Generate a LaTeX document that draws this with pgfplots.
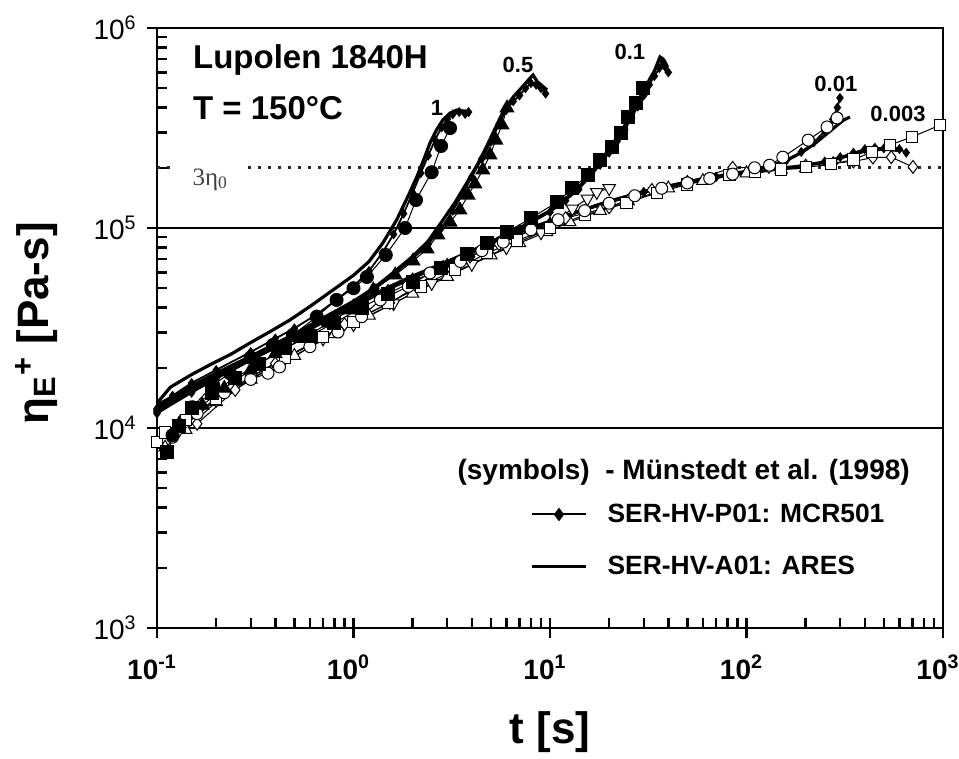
\documentclass[border=0pt]{standalone}
\usepackage{fontspec}
\setmainfont{Liberation Sans}
\newfontfamily\seriffont{Liberation Serif}
\usepackage{pgfplots}
\pgfplotsset{compat=1.18}
\pgfplotsset{
  ares/.style={black, line width=1.6pt, no marks, forget plot},
  mcr/.style={black, line width=0.9pt, mark=diamond*, mark size=1.8pt, forget plot},
  sym/.style={black, line width=0.5pt, forget plot, mark options={line width=0.6pt, solid}},
}
\begin{document}
\begin{tikzpicture}
\begin{axis}[
  name=ax,
  scale only axis, width=393pt, height=300pt,
  xmode=log, ymode=log,
  xmin=0.1, xmax=1000, ymin=1e3, ymax=1e6,
  axis line style={line width=1.4pt},
  xtick={0.1,1,10,100,1000},
  xticklabels={10\textsuperscript{-1},10\textsuperscript{0},10\textsuperscript{1},10\textsuperscript{2},10\textsuperscript{3}},
  ytick={1e3,1e4,1e5,1e6},
  yticklabels={10\textsuperscript{3},10\textsuperscript{4},10\textsuperscript{5},10\textsuperscript{6}},
  xminorticks=true, yminorticks=true,
  minor xtick={0.2,0.3,0.4,0.5,0.6,0.7,0.8,0.9,2,3,4,5,6,7,8,9,20,30,40,50,60,70,80,90,200,300,400,500,600,700,800,900},
  minor ytick={2000,3000,4000,5000,6000,7000,8000,9000,20000,30000,40000,50000,60000,70000,80000,90000,200000,300000,400000,500000,600000,700000,800000,900000},
  tick pos=left, tick align=inside,
  major tick length=5pt, minor tick length=5pt,
  major tick style={line width=1.3pt, black},
  minor tick style={line width=1.2pt, black},
  extra x ticks={0.1,1,10,100,1000},
  extra y ticks={1e3,1e4,1e5,1e6},
  extra x tick style={tick align=outside, major tick length=5pt, xticklabel={}},
  extra y tick style={tick align=outside, major tick length=5pt, yticklabel={}},
  xticklabel style={font=\bfseries\fontsize{14}{14}\selectfont, anchor=base, yshift=-25.5pt, xshift=-2.5pt, inner sep=0pt},
  yticklabel style={font=\fontsize{14}{14}\selectfont, anchor=east, xshift=-10pt, inner sep=0pt},
  ymajorgrids, major grid style={black, line width=1.4pt},
  xlabel={t [s]},
  xlabel style={font=\bfseries\fontsize{22}{22}\selectfont, at={(axis description cs:0.5,-0.1917)}, anchor=base},
  ylabel={η\textsubscript{E}\textsuperscript{+} [Pa-s]},
  ylabel style={font=\bfseries\fontsize{22}{22}\selectfont, at={(axis description cs:-0.126,0.508)}, anchor=south, inner sep=0pt},
  legend image code/.code={\draw[mark repeat=2,mark phase=2,#1] plot coordinates {(0pt,0pt)(13.5pt,0pt)(27pt,0pt)};},
  legend style={draw=none, fill=none, at={(axis description cs:0.4746,0.2077)}, anchor=north west,
    inner sep=0pt, row sep=15.4pt, column sep=10pt,
    nodes={inner sep=0pt}, font=\bfseries\fontsize{13.2}{14}\selectfont},
  legend cell align=left,
]
% 3 eta_0 dotted line
\addplot[black!85, line width=1.3pt, dash pattern=on 1.5pt off 3.5pt, forget plot] coordinates {(0.1,2e5)(0.117,2e5)};
\addplot[black!85, line width=1.3pt, dash pattern=on 1.5pt off 3.5pt, forget plot] coordinates {(0.29,2e5)(1000,2e5)};

% ---------- ARES lines ----------
% rate 1
\addplot[ares] coordinates {(0.1,13300)(0.117,16000)(0.15,18500)(0.186,20700)(0.24,23500)(0.297,26600)(0.38,30500)(0.475,34700)(0.6,40500)(0.787,49000)(1.0,58000)(1.2,68000)(1.41,84100)(1.66,110000)(1.9,145000)(2.1,180000)(2.3,225000)(2.45,266000)(2.65,310000)(2.85,347000)(3.1,375000)(3.36,389000)(3.6,385000)(3.92,367000)};
% rate 0.5
\addplot[ares] coordinates {(0.1,12900)(0.15,16200)(0.2,18800)(0.3,22800)(0.5,29500)(0.7,35500)(1.0,43000)(1.3,51000)(1.6,60000)(2.0,72000)(2.4,86000)(2.86,110000)(3.3,135000)(3.8,170000)(4.31,211000)(4.8,260000)(5.3,320000)(5.8,385000)(6.5,452000)(7.2,505000)(7.9,560000)(8.2,582000)(8.6,540000)(9.2,510000)(9.66,490000)};
% rate 0.1
\addplot[ares] coordinates {(0.1,12800)(0.15,16000)(0.2,18500)(0.3,22600)(0.5,29200)(0.7,34800)(1,41500)(1.5,50500)(2,57500)(3,68000)(4,77000)(5,85000)(6,93000)(7,100000)(8,108000)(10,122000)(12,140000)(14,160000)(16,185000)(18,215000)(20,248000)(22,285000)(24,325000)(26,372000)(28,425000)(30,485000)(32,550000)(34,610000)(36.3,716000)(38,690000)(39.6,640000)};
% rate 0.01
\addplot[ares] coordinates {(0.1,13000)(0.15,16200)(0.2,18700)(0.3,22800)(0.5,29300)(0.7,34800)(1,41500)(1.5,50000)(2,57000)(3,67000)(5,84000)(7,96000)(10,108000)(15,124000)(20,136000)(30,152000)(50,170000)(70,181000)(100,192000)(130,203000)(160,218000)(190,238000)(220,262000)(250,290000)(280,318000)(310,345000)(336,359000)};
% rate 0.003
\addplot[ares] coordinates {(0.1,12600)(0.15,15800)(0.2,18400)(0.3,22400)(0.5,28900)(0.7,34400)(1,41000)(1.5,49800)(2,56800)(3,66800)(5,83800)(7,95800)(10,107800)(15,123800)(20,135800)(30,151800)(50,169800)(70,180000)(100,188000)(150,198000)(200,206000)(250,214000)(300,224000)(350,234000)(400,242000)(450,246000)(500,248000)(550,246000)(600,244000)};

% ---------- MCR501 lines ----------
\addplot[mcr] coordinates {(0.1,12300)(0.12,14500)(0.15,16800)(0.2,19500)(0.3,24000)(0.4,28000)(0.5,31500)(0.65,37000)(0.8,43000)(1.0,51000)(1.2,61000)(1.4,75000)(1.6,93000)(1.8,118000)(2.0,150000)(2.2,188000)(2.4,230000)(2.6,275000)(2.8,318000)(3.0,350000)(3.2,370000)(3.45,380000)(3.7,372000)(3.85,380000)};
\addplot[mcr] coordinates {(0.1,12500)(0.15,15500)(0.2,18200)(0.3,22200)(0.5,28800)(0.7,34500)(1.0,42000)(1.3,50000)(1.6,58500)(2.0,70000)(2.4,83000)(2.8,100000)(3.2,122000)(3.6,148000)(4.0,180000)(4.5,222000)(5.0,270000)(5.5,330000)(6.0,390000)(6.5,430000)(7.0,460000)(7.5,500000)(8.0,530000)(8.5,520000)(9.0,500000)(9.5,470000)};
\addplot[mcr] coordinates {(0.1,12000)(0.15,15200)(0.2,17800)(0.3,21800)(0.5,28200)(0.7,33800)(1,40500)(1.5,49500)(2,56500)(3,67000)(4,76000)(5,84000)(6,92000)(7,99000)(8,106000)(10,120000)(12,137000)(14,156000)(16,180000)(18,207000)(20,238000)(22,272000)(24,310000)(26,355000)(28,405000)(30,460000)(32,520000)(34,575000)(36,630000)(37.5,680000)(38.5,640000)(40,600000)};
\addplot[mcr] coordinates {(0.1,12200)(0.15,15600)(0.2,18200)(0.3,22300)(0.5,28700)(0.7,34200)(1,40800)(1.5,49500)(2,56500)(3,66500)(5,83500)(7,95500)(10,107500)(15,123500)(20,135500)(30,151500)(50,169500)(70,180500)(100,191000)(130,202000)(160,218000)(190,240000)(220,268000)(250,305000)(275,350000)(290,400000)(299,447000)};
\addplot[mcr] coordinates {(0.1,11800)(0.15,15000)(0.2,17600)(0.3,21700)(0.5,28000)(0.7,33600)(1,40200)(1.5,49000)(2,56000)(3,66000)(5,83000)(7,95000)(10,107000)(15,123000)(20,135000)(30,151000)(50,169000)(70,179500)(100,190000)(150,197000)(200,205000)(250,215000)(300,226000)(350,238000)(400,248000)(450,252000)(500,250000)(550,255000)(600,248000)(650,238000)};

% ---------- Muenstedt et al. (1998) symbols ----------
% open triangles
\addplot[sym, mark=triangle*, mark size=3.6pt, mark options={fill=white}] coordinates {(0.11,8000)(0.14,9800)(0.2,13500)(0.3,17500)(0.5,23000)(0.8,29500)(1.2,36500)(2,47000)(3,57000)(5,73000)(7,84000)(9.6,95500)(12.6,107000)(18,122000)(25,136000)(40,158000)(60,172000)(100,188000)(150,196000)(200,199000)};
% open inverted triangles
\addplot[sym, mark=triangle*, mark size=3.6pt, mark options={fill=white, rotate=180}] coordinates {(0.13,9800)(0.2,13800)(0.3,18000)(0.45,22500)(0.7,28000)(1.0,33000)(1.6,42000)(2.5,53000)(4,66000)(6,80000)(9,95000)(13,125000)(15.5,140000)(17.3,151000)(20,158000)};
% open diamonds
\addplot[sym, mark=diamond*, mark size=3.2pt, mark options={fill=white}] coordinates {(0.16,10500)(0.25,15500)(0.4,21000)(0.6,26000)(0.9,33000)(1.53,42200)(2.09,51000)(2.86,64000)(3.92,72000)(5.5,83000)(8,97000)(12,112000)(20,127000)(33,155000)(50,170000)(85,200000)(130,202000)(200,205000)(276,211000)(350,215000)(440,225000)(545,226000)(703,202000)};
% open squares (0.003)
\addplot[sym, mark=square*, mark size=2.8pt, mark options={fill=white}] coordinates {(0.1,8500)(0.11,9500)(0.14,11000)(0.2,14000)(0.3,18000)(0.45,22500)(0.7,28500)(1.0,34000)(1.5,42000)(2.2,51000)(3.3,62000)(4.8,75000)(6.8,86500)(10,100000)(15,116000)(24.5,133000)(35,150000)(50,165000)(82,184000)(110,190000)(150,196000)(200,201000)(270,208000)(350,220000)(437,240000)(537,260000)(695,285000)(966,327000)};
% open circles (0.01)
\addplot[sym, mark=*, mark size=3pt, mark options={fill=white}] coordinates {(0.12,9000)(0.16,11800)(0.22,15000)(0.3,17500)(0.367,18800)(0.42,20200)(0.6,25500)(0.834,30200)(1.1,36000)(1.37,43700)(1.9,51000)(2.45,59600)(3.5,68000)(4.5,77000)(5.78,85000)(8,98000)(11,110000)(15,122000)(20,133000)(27,145000)(37,158000)(50,168000)(65,177000)(85,186000)(110,200000)(131,206000)(153,226000)(206,275000)(257,320000)(289,355000)};
% filled squares (0.1)
\addplot[sym, mark=square*, mark size=3.2pt] coordinates {(0.112,7600)(0.13,10200)(0.151,12600)(0.19,15000)(0.25,17800)(0.33,21000)(0.45,25000)(0.6,29000)(0.8,33500)(1.1,40000)(1.5,47000)(2.0,54000)(2.8,63000)(3.8,74000)(4.8,84000)(6.04,95500)(8.0,112000)(10.9,135000)(13,158000)(15.6,184000)(18,218000)(20.7,254000)(23,300000)(25.0,359000)(27.5,420000)(29.7,501000)};
% filled triangles (0.5)
\addplot[sym, mark=triangle*, mark size=3.8pt] coordinates {(0.13,10500)(0.17,13000)(0.22,15800)(0.3,19500)(0.4,23500)(0.55,28000)(0.75,33500)(0.96,38900)(1.26,49000)(1.63,58200)(2.01,68400)(2.37,78500)(2.69,92300)(3.10,107000)(3.48,123000)(3.83,146000)(4.15,166000)(4.55,195000)(4.95,232000)(5.3,275000)(5.70,327000)(6.04,398000)};
% filled circles (1)
\addplot[sym, mark=*, mark size=3.2pt] coordinates {(0.12,9200)(0.151,12700)(0.193,16400)(0.235,18800)(0.30,22500)(0.389,26000)(0.492,29200)(0.65,36000)(0.82,43700)(1.0,50000)(1.17,56900)(1.46,73300)(1.83,100000)(2.08,138000)(2.5,190000)(2.79,257000)(3.1,316000)};

% legend
\addlegendimage{black, line width=1pt, mark=diamond*, mark size=2.6pt}
\addlegendentry{SER-HV-P01: MCR501}
\addlegendimage{black, line width=1.6pt, no marks}
\addlegendentry{SER-HV-A01: ARES}

% texts
\node[anchor=base west, inner sep=0pt, font=\bfseries\fontsize{16.5}{16.5}\selectfont] at (axis cs:0.152,6.24e5) {Lupolen 1840H};
\node[anchor=base west, inner sep=0pt, font=\bfseries\fontsize{16.5}{16.5}\selectfont] at (axis cs:0.152,3.47e5) {T = 150°C};
\node[anchor=base, font=\bfseries\fontsize{11}{11}\selectfont] at (axis cs:2.66,3.67e5) {1};
\node[anchor=base, font=\bfseries\fontsize{11}{11}\selectfont] at (axis cs:6.87,5.96e5) {0.5};
\node[anchor=base, font=\bfseries\fontsize{11}{11}\selectfont] at (axis cs:25.5,6.92e5) {0.1};
\node[anchor=base, font=\bfseries\fontsize{11}{11}\selectfont] at (axis cs:285,4.79e5) {0.01};
\node[anchor=base, font=\bfseries\fontsize{11}{11}\selectfont] at (axis cs:590,3.39e5) {0.003};
\node[anchor=base west, inner sep=0pt, text=black!75, font=\seriffont\fontsize{12.5}{12.5}\selectfont] at (axis cs:0.151,1.64e5) {3η\textsubscript{0}};
\node[anchor=base west, inner sep=0pt, font=\bfseries\fontsize{14}{14}\selectfont] at (axis cs:3.37,5500) {(symbols)\ \ - Münstedt et al. (1998)};
\end{axis}
\pgfresetboundingbox
\path ([xshift=-78.5pt,yshift=-65pt]ax.south west) rectangle ([xshift=8pt,yshift=14pt]ax.north east);
\end{tikzpicture}
\end{document}
